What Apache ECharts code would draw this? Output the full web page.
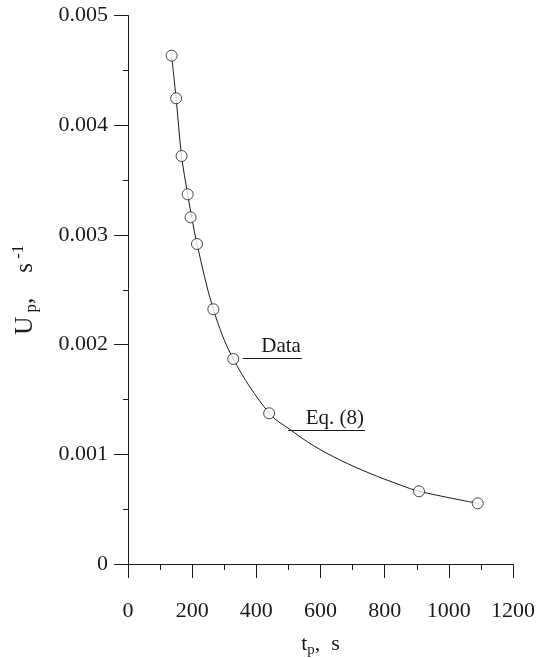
<!DOCTYPE html>
<html>
<head>
<meta charset="utf-8">
<script src="https://cdn.jsdelivr.net/npm/echarts@6/dist/echarts.min.js"></script>
<style>
html,body{margin:0;padding:0;background:#fff;}
#chart{width:553px;height:658px;}
</style>
</head>
<body>
<div id="chart"></div>
<script>
// measured points (t_p in s, U_p in 1/s)
var dataT = [136, 150, 167, 186, 195, 215, 266, 328, 440, 907, 1090];
var dataU = [0.004634, 0.004245, 0.003719, 0.00337, 0.00316, 0.002917, 0.002322, 0.001869, 0.001374, 0.000663, 0.000553];
// Eq. (8) curve
var curveT = [136, 150, 167, 186, 200, 215, 266, 328, 440, 505, 578, 661, 754, 848, 907, 1090];
var curveU = [0.004634, 0.004245, 0.003719, 0.00337, 0.00314, 0.002917, 0.002322, 0.001869, 0.001374, 0.001226, 0.001079, 0.000948, 0.000826, 0.000721, 0.000663, 0.000553];
var xTicks = [0, 200, 400, 600, 800, 1000, 1200];
var yTicks = [0, 0.001, 0.002, 0.003, 0.004, 0.005];

var serif = 'Liberation Serif';
var ink = '#1a1a1a';

function pairs(a, b) {
    var out = [];
    for (var i = 0; i < a.length; i++) out.push([a[i], b[i]]);
    return out;
}

var chart = echarts.init(document.getElementById('chart'));
var option = {
    backgroundColor: '#fff',
    animation: false,
    grid: {left: 128, right: 40, top: 15.5, bottom: 94, containLabel: false, outerBoundsMode: 'none'},
    xAxis: {
        type: 'value',
        min: xTicks[0],
        max: xTicks[xTicks.length - 1],
        interval: 200,
        name: '{m|t}{sub|p}{m|,  s}',
        nameLocation: 'middle',
        nameGap: 66,
        nameTextStyle: {
            rich: {
                m: {fontFamily: serif, fontSize: 22, color: ink, lineHeight: 28},
                sub: {fontFamily: serif, fontSize: 15, color: ink, lineHeight: 22, verticalAlign: 'bottom'}
            }
        },
        axisLine: {onZero: false, lineStyle: {color: ink, width: 1}},
        axisTick: {inside: false, length: 14, lineStyle: {color: ink}},
        minorTick: {show: true, splitNumber: 2, length: 6, lineStyle: {color: ink}},
        splitLine: {show: false},
        axisLabel: {
            fontFamily: serif, fontSize: 22, color: ink, margin: 36,
            formatter: function (v) { return String(v); }
        }
    },
    yAxis: {
        type: 'value',
        min: yTicks[0],
        max: yTicks[yTicks.length - 1],
        interval: 0.001,
        name: '{m|U}{sub| p}{m|,    s}{sup| -1}',
        nameLocation: 'middle',
        nameRotate: 90,
        nameGap: 88,
        nameTextStyle: {
            rich: {
                m: {fontFamily: serif, fontSize: 25, color: ink, lineHeight: 30},
                sub: {fontFamily: serif, fontSize: 17, color: ink, lineHeight: 22, verticalAlign: 'bottom'},
                sup: {fontFamily: serif, fontSize: 17, color: ink, lineHeight: 22, verticalAlign: 'top'}
            }
        },
        axisLine: {show: true, lineStyle: {color: ink, width: 1}},
        axisTick: {show: true, inside: false, length: 14, lineStyle: {color: ink}},
        minorTick: {show: true, splitNumber: 2, length: 5, lineStyle: {color: ink}},
        splitLine: {show: false},
        axisLabel: {
            fontFamily: serif, fontSize: 22, color: ink, margin: 20,
            formatter: function (v) { return v === 0 ? '0' : v.toFixed(3); }
        }
    },
    series: [
        {
            name: 'Eq. (8)',
            type: 'line',
            data: pairs(curveT, curveU),
            smooth: 0.35,
            showSymbol: false,
            symbol: 'none',
            lineStyle: {color: ink, width: 1},
            z: 2,
            markLine: {
                silent: true,
                symbol: 'none',
                lineStyle: {color: ink, width: 1, type: 'solid'},
                label: {
                    position: 'insideEndTop',
                    distance: 1,
                    fontFamily: serif,
                    fontSize: 21,
                    color: ink
                },
                data: [
                    [{coord: [358, 0.001878], label: {formatter: 'Data'}}, {coord: [542, 0.001878]}],
                    [{coord: [499, 0.001222], label: {formatter: 'Eq. (8)'}}, {coord: [739, 0.001222]}]
                ]
            }
        },
        {
            name: 'Data',
            type: 'scatter',
            data: pairs(dataT, dataU),
            symbol: 'circle',
            symbolSize: 11,
            itemStyle: {color: '#fff', borderColor: ink, borderWidth: 1},
            z: 3
        }
    ]
};
chart.setOption(option);
</script>
</body>
</html>
